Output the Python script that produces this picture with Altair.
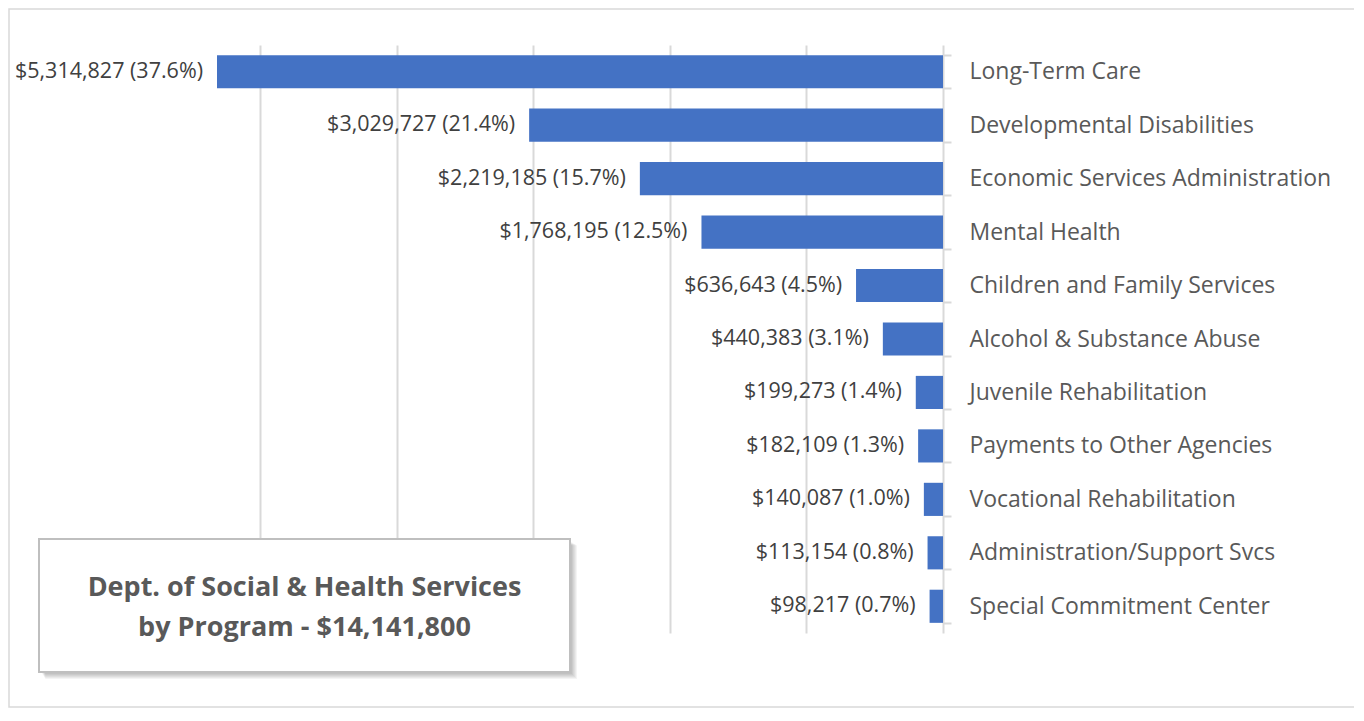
import altair as alt
import pandas as pd

programs = [
    "Long-Term Care",
    "Developmental Disabilities",
    "Economic Services Administration",
    "Mental Health",
    "Children and Family Services",
    "Alcohol & Substance Abuse",
    "Juvenile Rehabilitation",
    "Payments to Other Agencies",
    "Vocational Rehabilitation",
    "Administration/Support Svcs",
    "Special Commitment Center",
]
amounts = [5314827, 3029727, 2219185, 1768195, 636643, 440383, 199273, 182109, 140087, 113154, 98217]
percents = [37.6, 21.4, 15.7, 12.5, 4.5, 3.1, 1.4, 1.3, 1.0, 0.8, 0.7]
grid_values = [1000000, 2000000, 3000000, 4000000, 5000000]
title_lines = ["Dept. of Social & Health Services", "by Program - $14,141,800"]

FONT = "Open Sans"
GRAY = "#d9d9d9"

df = pd.DataFrame({"program": programs, "amount": amounts, "pct": percents})
df["label"] = [f"${a:,} ({p:.1f}%)" for a, p in zip(amounts, percents)]

x_scale = alt.Scale(domain=[0, max(amounts)], reverse=True, nice=False, zero=True)
y_scale = alt.Scale(paddingInner=0.38, paddingOuter=0.19)

base = alt.Chart(df)

bars = base.mark_bar(color="#4472C4").encode(
    x=alt.X("amount:Q", scale=x_scale,
            axis=alt.Axis(values=grid_values, labels=False, ticks=False, domain=False,
                          grid=True, gridColor=GRAY, gridWidth=2, title=None)),
    y=alt.Y("program:N", sort=programs, scale=y_scale,
            axis=alt.Axis(orient="right", title=None, domainColor=GRAY, domainWidth=2,
                          tickBand="extent", tickSize=8, tickColor=GRAY, tickWidth=2,
                          labelPadding=18, labelFont=FONT, labelFontSize=23,
                          labelColor="#595959", labelAlign="left", labelLimit=500)),
)

labels = base.mark_text(align="right", baseline="middle", dx=-14, font=FONT,
                        fontSize=21.5, color="#404040").encode(
    x=alt.X("amount:Q", scale=x_scale),
    y=alt.Y("program:N", sort=programs, scale=y_scale),
    text="label:N",
)

one = pd.DataFrame({"k": [0]})

# outer chart border
border = alt.Chart(one).mark_rect(fill="white", fillOpacity=0, stroke=GRAY, strokeWidth=1.5).encode(
    x=alt.value(-208), x2=alt.value(1138), y=alt.value(-36), y2=alt.value(662)
)

# title box (pixel positions relative to plot origin)
bx1, bx2, by1, by2 = -178, 353, 494, 627
shadows = []
for i in range(1, 8):
    shadows.append(
        alt.Chart(one).mark_rect(fill="black", opacity=0.045).encode(
            x=alt.value(bx1 + 2 + i * 0.6), x2=alt.value(bx2 + i),
            y=alt.value(by1 + 2 + i * 0.6), y2=alt.value(by2 + i),
        )
    )
box = alt.Chart(one).mark_rect(fill="white", stroke="#bfbfbf", strokeWidth=2).encode(
    x=alt.value(bx1), x2=alt.value(bx2), y=alt.value(by1), y2=alt.value(by2)
)
tdf = pd.DataFrame({"line": title_lines, "i": [0, 1]})
title_text = alt.Chart(tdf).transform_calculate(
    ypix="543 + datum.i * 40"
).mark_text(align="center", baseline="middle", font=FONT, fontSize=27,
            fontWeight="bold", color="#595959").encode(
    x=alt.value((bx1 + bx2) / 2),
    y=alt.Y("ypix:Q", scale=None),
    text="line:N",
)

chart = alt.layer(border, bars, labels, *shadows, box, title_text).properties(
    width=726, height=588,
    background="white",
    autosize=alt.AutoSizeParams(type="none"),
    padding={"left": 209, "top": 37, "right": 411, "bottom": 75},
).configure_view(strokeWidth=0, stroke="transparent")

chart.save("out.html", embed_options={"renderer": "svg", "actions": False})
